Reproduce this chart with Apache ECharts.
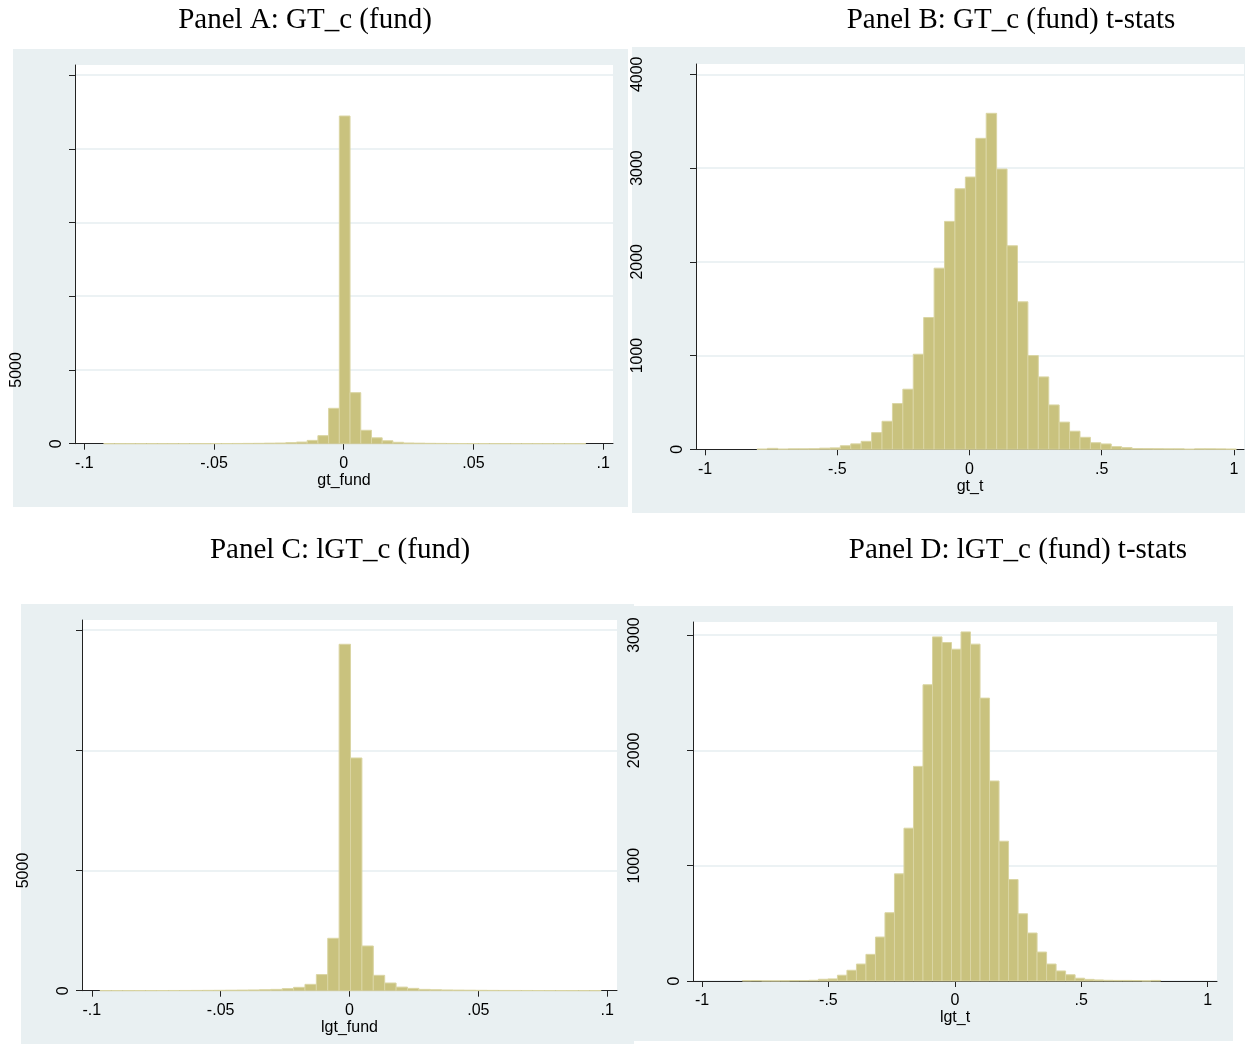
<!DOCTYPE html>
<html><head><meta charset="utf-8">
<script src="https://cdn.jsdelivr.net/npm/echarts@6/dist/echarts.min.js"></script>
<style>html,body{margin:0;padding:0;background:#fff}#c{width:1245px;height:1045px}</style>
</head><body><div id="c"></div>
<script>
// ---------- data ----------
const panelTitles = ['Panel A: GT_c (fund)', 'Panel B: GT_c (fund) t-stats', 'Panel C: lGT_c (fund)', 'Panel D: lGT_c (fund) t-stats'];
const xNames = ['gt_fund', 'gt_t', 'lgt_fund', 'lgt_t'];

const smallTickVals = [-0.1, -0.05, 0, 0.05, 0.1];
const smallTickLabels = ['-.1', '-.05', '0', '.05', '.1'];
const bigTickVals = [-1, -0.5, 0, 0.5, 1];
const bigTickLabels = ['-1', '-.5', '0', '.5', '1'];

const yTicksA = [0, 5000, 10000, 15000, 20000, 25000];
const yLabelsA = [0, 5000];
const yTicksB = [0, 1000, 2000, 3000, 4000];
const yLabelsB = [0, 1000, 2000, 3000, 4000];
const yTicksC = [0, 5000, 10000, 15000];
const yLabelsC = [0, 5000];
const yTicksD = [0, 1000, 2000, 3000];
const yLabelsD = [0, 1000, 2000, 3000];

// histogram bins: first edge, bin width, counts
const binStartA = -0.09256, binWidthA = 0.00413;
const countsA = [3,4,5,5,6,6,7,8,9,10,12,14,16,20,25,35,45,70,110,225,545,2400,22220,3460,910,400,200,95,48,35,25,20,16,13,11,10,9,8,7,6,6,5,4,4,3];

const binStartB = -0.8035, binWidthB = 0.0394;
const countsB = [2,10,2,5,5,6,12,15,38,58,85,178,299,488,641,1014,1406,1932,2431,2779,2904,3317,3584,2989,2171,1573,1000,772,473,290,193,128,70,57,28,18,8,7,6,5,5,1,5,5,4,2];

const binStartC = -0.09684, binWidthC = 0.00442;
const countsC = [4,5,5,6,7,8,9,10,12,14,16,20,24,30,40,55,85,140,265,670,2180,14410,9680,1860,640,320,150,97,55,40,30,24,20,16,13,11,10,9,8,7,6,5,4,4];

const binStartD = -0.8404, binWidthD = 0.0376;
const countsD = [3,4,1,1,2,4,4,6,15,18,50,93,147,231,381,592,929,1325,1861,2569,2984,2935,2877,3027,2921,2453,1734,1212,880,583,416,251,147,87,54,24,14,9,6,5,5,4,1,5];

// ---------- layout / style ----------
const FONT = 'Liberation Sans, Arial, sans-serif';
const FS = 16;
const BAR_FILL = '#C9C27E';
const BAR_EDGE = '#DAD5A3';
const GRID_LINE = '#E6EEF1';
const PANEL_BG = '#E9F0F2';

const panels = [
  {grid:{left:75, top:65, width:538, height:378.7}, xr:[-0.1036,0.1038], ymax:25680,
   bins:[binStartA,binWidthA,countsA], tv:smallTickVals, tl:smallTickLabels, yt:yTicksA, yl:yLabelsA, nameGap:25},
  {grid:{left:696, top:64, width:548, height:385.3}, xr:[-1.034,1.038], ymax:4110,
   bins:[binStartB,binWidthB,countsB], tv:bigTickVals, tl:bigTickLabels, yt:yTicksB, yl:yLabelsB, nameGap:27},
  {grid:{left:82, top:620, width:535, height:370.7}, xr:[-0.1038,0.1038], ymax:15420,
   bins:[binStartC,binWidthC,countsC], tv:smallTickVals, tl:smallTickLabels, yt:yTicksC, yl:yLabelsC, nameGap:25},
  {grid:{left:693, top:622, width:524, height:359}, xr:[-1.0356,1.0368], ymax:3113,
   bins:[binStartD,binWidthD,countsD], tv:bigTickVals, tl:bigTickLabels, yt:yTicksD, yl:yLabelsD, nameGap:23}
];

const bgRects = [
  [13, 49, 615, 458],
  [632, 47, 613, 466],
  [21, 604, 613, 440],
  [634, 606, 599, 435]
];
const titlePos = [[305, 20], [1011, 20], [340, 550], [1018, 550]];

function binData(start, width, counts) {
  return counts.map((c, i) => [start + i * width, start + (i + 1) * width, c]);
}

const grids = [], xAxes = [], yAxes = [], series = [];
panels.forEach((p, i) => {
  grids.push(Object.assign({show:true, backgroundColor:'#fff', borderWidth:0, containLabel:false}, p.grid));
  xAxes.push({
    type:'value', gridIndex:i, min:p.xr[0], max:p.xr[1],
    name:xNames[i], nameLocation:'middle', nameGap:p.nameGap,
    nameTextStyle:{fontFamily:FONT, fontSize:FS, color:'#000'},
    axisLine:{show:true, onZero:false, lineStyle:{color:'#222', width:1}},
    axisTick:{show:true, length:6, customValues:p.tv, lineStyle:{color:'#222'}},
    axisLabel:{show:true, customValues:p.tv, margin:12, fontFamily:FONT, fontSize:FS, color:'#000',
      formatter: v => { const k = p.tv.findIndex(t => Math.abs(t - v) < 1e-9); return k >= 0 ? p.tl[k] : ''; }},
    splitLine:{show:false}
  });
  yAxes.push({
    type:'value', gridIndex:i, min:0, max:p.ymax,
    axisLine:{show:true, onZero:false, lineStyle:{color:'#222', width:1}},
    axisTick:{show:true, length:6, customValues:p.yt, lineStyle:{color:'#222'}},
    axisLabel:{show:true, customValues:p.yl, rotate:90, margin:10, fontFamily:FONT, fontSize:FS, color:'#000',
      formatter: v => v === 0 ? '{z|0}' : '{n|' + v + '}',
      rich:{z:{fontFamily:FONT, fontSize:FS, color:'#000'}, n:{fontFamily:FONT, fontSize:FS, color:'#000', padding:[0,0,40,0]}}},
    splitLine:{show:true, lineStyle:{color:GRID_LINE, width:1.5}}
  });
  series.push({
    type:'custom', xAxisIndex:i, yAxisIndex:i,
    data: binData(p.bins[0], p.bins[1], p.bins[2]),
    encode:{x:[0,1], y:2},
    renderItem:(params, api) => {
      const a = api.coord([api.value(0), api.value(2)]);
      const b = api.coord([api.value(1), 0]);
      return {type:'rect', shape:{x:a[0], y:a[1], width:b[0]-a[0], height:b[1]-a[1]},
        style:{fill:BAR_FILL, stroke:BAR_EDGE, lineWidth:1}};
    }
  });
});

const graphics = [];
bgRects.forEach(r => graphics.push({type:'rect', z:-100, shape:{x:r[0], y:r[1], width:r[2], height:r[3]}, style:{fill:PANEL_BG}, silent:true}));
panelTitles.forEach((t, i) => graphics.push({type:'text', z:10, x:titlePos[i][0], y:titlePos[i][1],
  style:{text:t, fill:'#000', font:'29px "Liberation Serif", "Times New Roman", serif', align:'center', verticalAlign:'middle'}}));

const chart = echarts.init(document.getElementById('c'), null, {renderer:'canvas'});
chart.setOption({
  backgroundColor:'#fff',
  animation:false,
  graphic:{elements:graphics},
  grid:grids, xAxis:xAxes, yAxis:yAxes, series:series
});
</script></body></html>
